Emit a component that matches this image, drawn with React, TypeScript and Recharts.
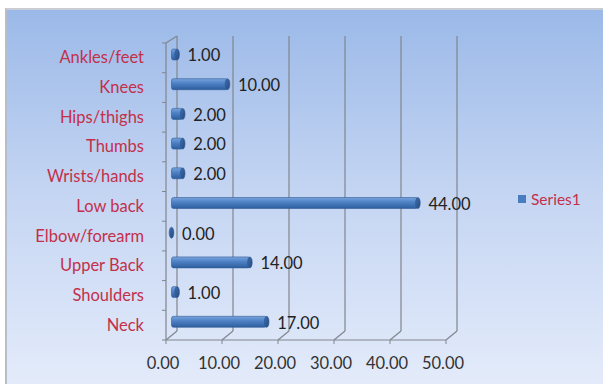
import { BarChart, Bar, XAxis, YAxis, CartesianGrid, Legend, LabelList } from "recharts";

// body regions, listed bottom to top as in the source sheet
const regions = [
  "Neck",
  "Shoulders",
  "Upper Back",
  "Elbow/forearm",
  "Low back",
  "Wrists/hands",
  "Thumbs",
  "Hips/thighs",
  "Knees",
  "Ankles/feet",
];
const series1 = [17, 1, 14, 0, 44, 2, 2, 2, 10, 1];
const xTicks = [0, 10, 20, 30, 40, 50];

const data = regions.map((name, i) => ({ name, value: series1[i] }));

const FONT = "Lato, 'Open Sans', sans-serif";
const FS = 16.5;
const RED = "#c3304a";
const GRID = "#80858d";
// fake 3D depth: back wall sits this far right / up from the front edge
const DX = 11;
const DY = 9;

function GridLine(props: any) {
  const { x1, y1, y2, index } = props;
  return (
    <g key={`g-${index}`}>
      <line x1={x1 + DX} y1={y1 - 7} x2={x1 + DX} y2={y2 - DY} stroke={GRID} strokeWidth={1.2} />
      <line x1={x1 + DX} y1={y2 - DY} x2={x1} y2={y2} stroke={GRID} strokeWidth={1.2} />
      {index === 0 && (
        <line x1={x1} y1={y1} x2={x1 + DX} y2={y1 - 7} stroke={GRID} strokeWidth={1.2} />
      )}
    </g>
  );
}

function CylinderBar(props: any) {
  const { x, y, width, height } = props;
  const cx = x + DX / 2;
  const cy = y - 3;
  const h = height;
  const w = Math.max(width, 0);
  return (
    <g>
      {w > 0 && (
        <rect x={cx} y={cy} width={w} height={h} rx={2} ry={2} fill="url(#barGrad)" stroke="#2f5d96" strokeWidth={0.6} />
      )}
      <ellipse cx={cx + w} cy={cy + h / 2} rx={2.3} ry={h / 2} fill="url(#capGrad)" stroke="#2a5590" strokeWidth={0.6} />
    </g>
  );
}

function RegionTick(props: any) {
  const { x, y, payload } = props;
  const half = payload?.offset ?? 14.85;
  return (
    <g>
      <line x1={x + 8} y1={y - half} x2={x + 4} y2={y - half} stroke={GRID} />
      {payload.index === 0 && (
        <line x1={x + 8} y1={y + half} x2={x + 4} y2={y + half} stroke={GRID} />
      )}
      <text x={x - 14} y={y} dy={5.5} textAnchor="end" fill={RED} fontSize={FS} fontFamily={FONT}>
        {payload.value}
      </text>
    </g>
  );
}

function ValueTick(props: any) {
  const { x, y, payload } = props;
  return (
    <g>
      <line x1={x} y1={y - 8} x2={x} y2={y - 4} stroke={GRID} />
      <text x={x - 3} y={y} dy={21} textAnchor="middle" fill="#333" fontSize={FS} fontFamily={FONT}>
        {Number(payload.value).toFixed(2)}
      </text>
    </g>
  );
}

function LegendContent() {
  return (
    <div style={{ display: "flex", alignItems: "center", fontFamily: FONT, fontSize: 15.5, color: RED }}>
      <span style={{ width: 8, height: 8, background: "#4a7cc0", marginRight: 5, display: "inline-block" }} />
      Series1
    </div>
  );
}

export default function App() {
  return (
    <div style={{ position: "absolute", left: 0, top: 0, width: 603, height: 384, background: "#fff", overflow: "hidden" }}>
      <div
        style={{
          position: "absolute",
          left: 5,
          top: 8,
          width: 610,
          height: 390,
          borderLeft: "2px solid #b9bec6",
          borderTop: "2px solid #c9ccd2",
          background: "linear-gradient(to bottom, #9bb9e8 0%, #c3d4f2 45%, #e6edfb 100%)",
        }}
      />
      <div style={{ position: "absolute", left: 0, top: 0 }}>
        <BarChart
          width={603}
          height={384}
          data={data}
          layout="vertical"
          barSize={11}
          margin={{ top: 43, right: 157, bottom: 14, left: 0 }}
        >
          <defs>
            <linearGradient id="barGrad" x1="0" y1="0" x2="0" y2="1">
              <stop offset="0%" stopColor="#7aa3dc" />
              <stop offset="40%" stopColor="#4f83c6" />
              <stop offset="100%" stopColor="#2d5d9e" />
            </linearGradient>
            <linearGradient id="capGrad" x1="0" y1="0" x2="1" y2="1">
              <stop offset="0%" stopColor="#3f6fae" />
              <stop offset="100%" stopColor="#24497e" />
            </linearGradient>
          </defs>
          <CartesianGrid horizontal={false} vertical={GridLine as any} />
          <XAxis
            type="number"
            domain={[0, 50]}
            ticks={xTicks}
            height={30}
            axisLine={{ stroke: GRID, strokeWidth: 1.2 }}
            tickLine={false}
            tick={ValueTick}
          />
          <YAxis
            type="category"
            dataKey="name"
            reversed
            width={166}
            axisLine={{ stroke: GRID, strokeWidth: 1.2 }}
            tickLine={false}
            tick={RegionTick}
            interval={0}
          />
          <Legend
            layout="horizontal"
            align="center"
            verticalAlign="middle"
            content={LegendContent}
            wrapperStyle={{ left: 518, top: 190, width: 85 }}
          />
          <Bar dataKey="value" name="Series1" fill="#4a7cc0" shape={CylinderBar} isAnimationActive={false}>
            <LabelList
              dataKey="value"
              position="right"
              offset={16}
              dy={-2}
              fill="#222"
              fontSize={FS}
              fontFamily={FONT}
              formatter={(v: any) => Number(v).toFixed(2)}
            />
          </Bar>
        </BarChart>
      </div>
    </div>
  );
}
